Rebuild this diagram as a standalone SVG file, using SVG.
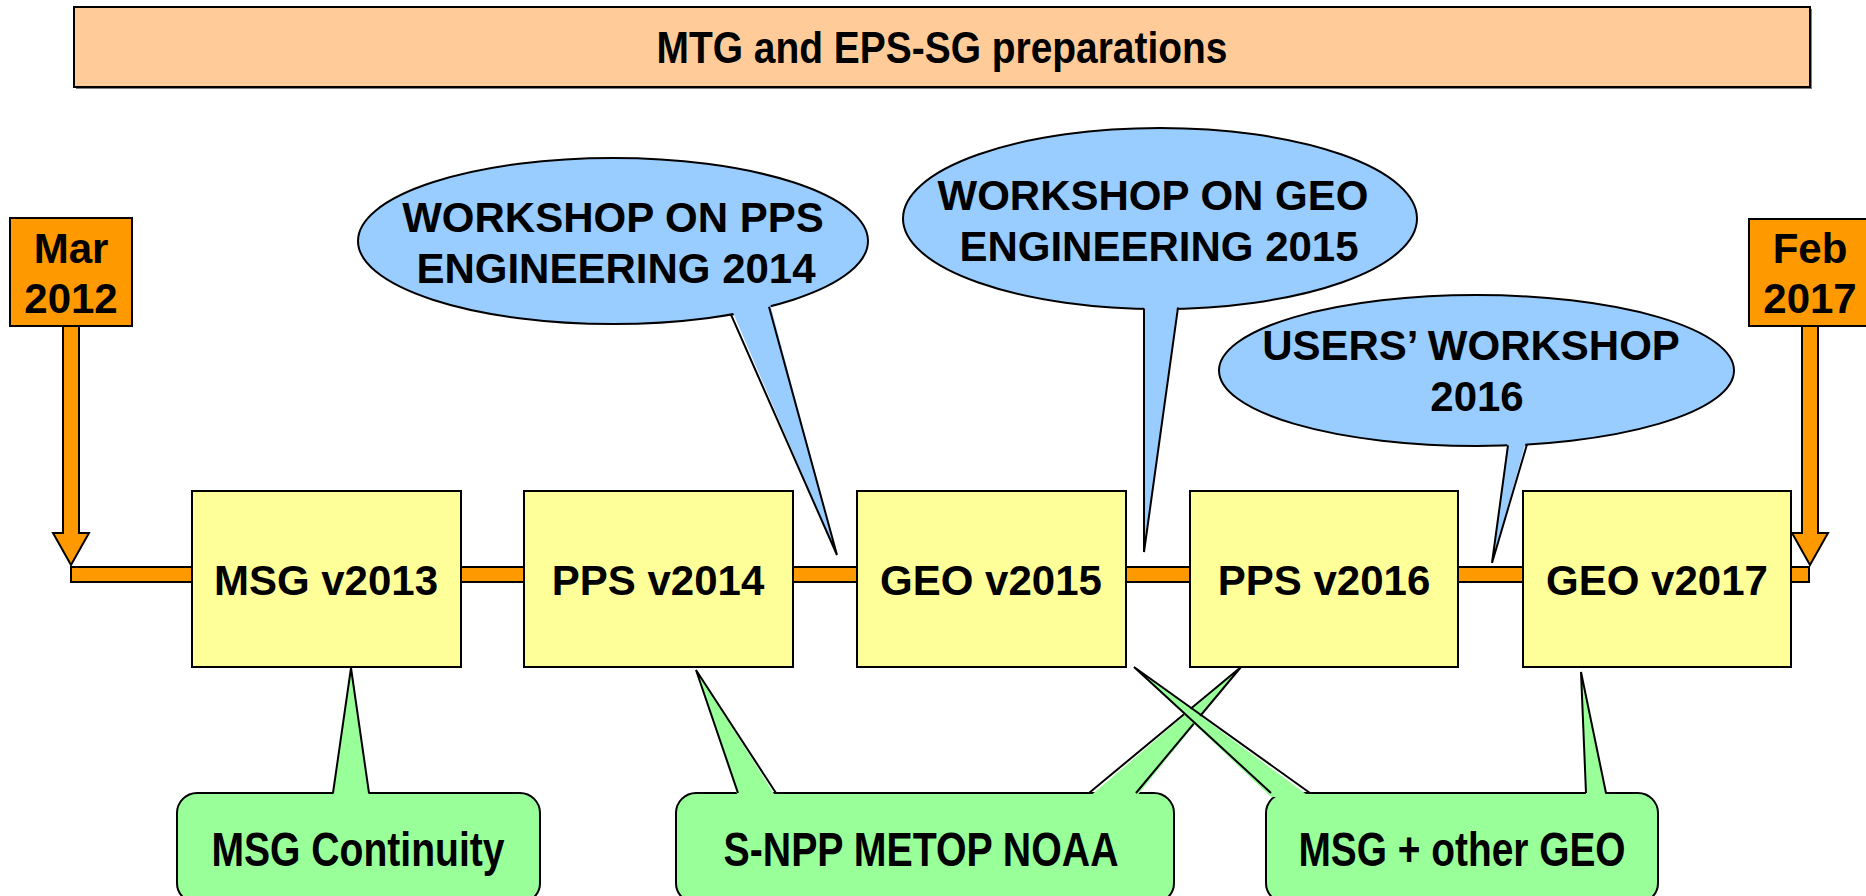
<svg xmlns="http://www.w3.org/2000/svg" width="1866" height="896" viewBox="0 0 1866 896">
<style>
text{font-family:"Liberation Sans",Arial,sans-serif;font-weight:bold;fill:#000;text-anchor:middle}
.t42{font-size:42px}
.t46{font-size:48px}
.yb{fill:#FFFF99;stroke:#000;stroke-width:2}
.gb{fill:#99FF99;stroke:#000;stroke-width:2}
.bb{fill:#99CCFF;stroke:#000;stroke-width:2}
.gf{fill:#99FF99;stroke:none}
.bf{fill:#99CCFF;stroke:none}
.edge{fill:none;stroke:#000;stroke-width:2;stroke-linejoin:miter}
.or{fill:#FF9900;stroke:#000;stroke-width:2}
</style>
<rect width="1866" height="896" fill="#fff"/>

<g id="title">
<rect x="76" y="9" width="1736" height="80" fill="#808080"/>
<rect x="74" y="7" width="1736" height="80" fill="#FFCC99" stroke="#000" stroke-width="2"/>
<text x="942" y="63" style="font-size:44px" textLength="571" lengthAdjust="spacingAndGlyphs">MTG and EPS-SG preparations</text>
</g>

<g id="connectors">
<rect class="or" x="71" y="567" width="1738" height="15"/>
<polygon class="or" points="63,320 79,320 79,533 89,533 71,565 53,533 63,533"/>
<polygon class="or" points="1802,320 1818,320 1818,533 1828,533 1810,565 1792,533 1802,533"/>
</g>

<g id="start-mar-2012">
<rect class="or" x="10" y="218" width="122" height="108"/>
<text class="t42" x="71" y="263">Mar</text>
<text class="t42" x="71" y="313">2012</text>
</g>

<g id="end-feb-2017">
<rect class="or" x="1749" y="219" width="122" height="107"/>
<text class="t42" x="1810" y="263">Feb</text>
<text class="t42" x="1810" y="313">2017</text>
</g>

<g id="msg-v2013">
<rect class="yb" x="192" y="491" width="269" height="176"/>
<text class="t42" x="326" y="595">MSG v2013</text>
</g>
<g id="pps-v2014">
<rect class="yb" x="524" y="491" width="269" height="176"/>
<text class="t42" x="658" y="595">PPS v2014</text>
</g>
<g id="geo-v2015">
<rect class="yb" x="857" y="491" width="269" height="176"/>
<text class="t42" x="991" y="595">GEO v2015</text>
</g>
<g id="pps-v2016">
<rect class="yb" x="1190" y="491" width="268" height="176"/>
<text class="t42" x="1324" y="595">PPS v2016</text>
</g>
<g id="geo-v2017">
<rect class="yb" x="1523" y="491" width="268" height="176"/>
<text class="t42" x="1657" y="595">GEO v2017</text>
</g>

<g id="workshop-pps-2014">
<ellipse class="bb" cx="613" cy="241" rx="255" ry="83"/>
<polygon class="bf" points="731,308 837,555 769,300"/>
<polyline class="edge" points="731,314.6 837,555 769,306.7"/>
<text class="t42" x="613" y="232">WORKSHOP ON PPS</text>
<text class="t42" x="616" y="283">ENGINEERING 2014</text>
</g>

<g id="workshop-geo-2015">
<ellipse class="bb" cx="1160" cy="218.5" rx="257" ry="90.5"/>
<polygon class="bf" points="1144,302 1144,552 1178,301"/>
<polyline class="edge" points="1144,308.5 1144,552 1178,307.5"/>
<text class="t42" x="1153" y="210">WORKSHOP ON GEO</text>
<text class="t42" x="1159" y="261">ENGINEERING 2015</text>
</g>

<g id="users-workshop-2016">
<ellipse class="bb" cx="1476.5" cy="370.5" rx="257.5" ry="75.5"/>
<polygon class="bf" points="1508,439 1492,563 1527,438"/>
<polyline class="edge" points="1508,445.3 1492,563 1527,444.4"/>
<text class="t42" x="1471" y="360">USERS’ WORKSHOP</text>
<text class="t42" x="1477" y="411">2016</text>
</g>

<g id="msg-continuity">
<rect class="gb" x="177" y="793" width="363" height="110" rx="20" ry="20"/>
<polygon class="gf" points="333,797 351,668 369,797"/>
<polyline class="edge" points="333,793 351,668 369,793"/>
<text class="t46" x="358" y="866" textLength="293" lengthAdjust="spacingAndGlyphs">MSG Continuity</text>
</g>

<g id="snpp-metop-noaa">
<rect class="gb" x="676" y="793" width="498" height="110" rx="20" ry="20"/>
<polygon class="gf" points="738,797 696,670 776,797"/>
<polyline class="edge" points="738,793 696,670 776,793"/>
<polygon class="gf" points="1089,797 1241,667 1136,797"/>
<polyline class="edge" points="1089,793 1241,667 1136,793"/>
<text class="t46" x="921" y="866" textLength="395" lengthAdjust="spacingAndGlyphs">S-NPP METOP NOAA</text>
</g>

<g id="msg-other-geo">
<rect class="gb" x="1266" y="793" width="392" height="110" rx="20" ry="20"/>
<polygon class="gf" points="1271,797 1134,667 1310,797"/>
<polyline class="edge" points="1271,793 1134,667 1310,793"/>
<polygon class="gf" points="1586,797 1581,672 1606,797"/>
<polyline class="edge" points="1586,793 1581,672 1606,793"/>
<text class="t46" x="1462" y="866" textLength="327" lengthAdjust="spacingAndGlyphs">MSG + other GEO</text>
</g>
</svg>
